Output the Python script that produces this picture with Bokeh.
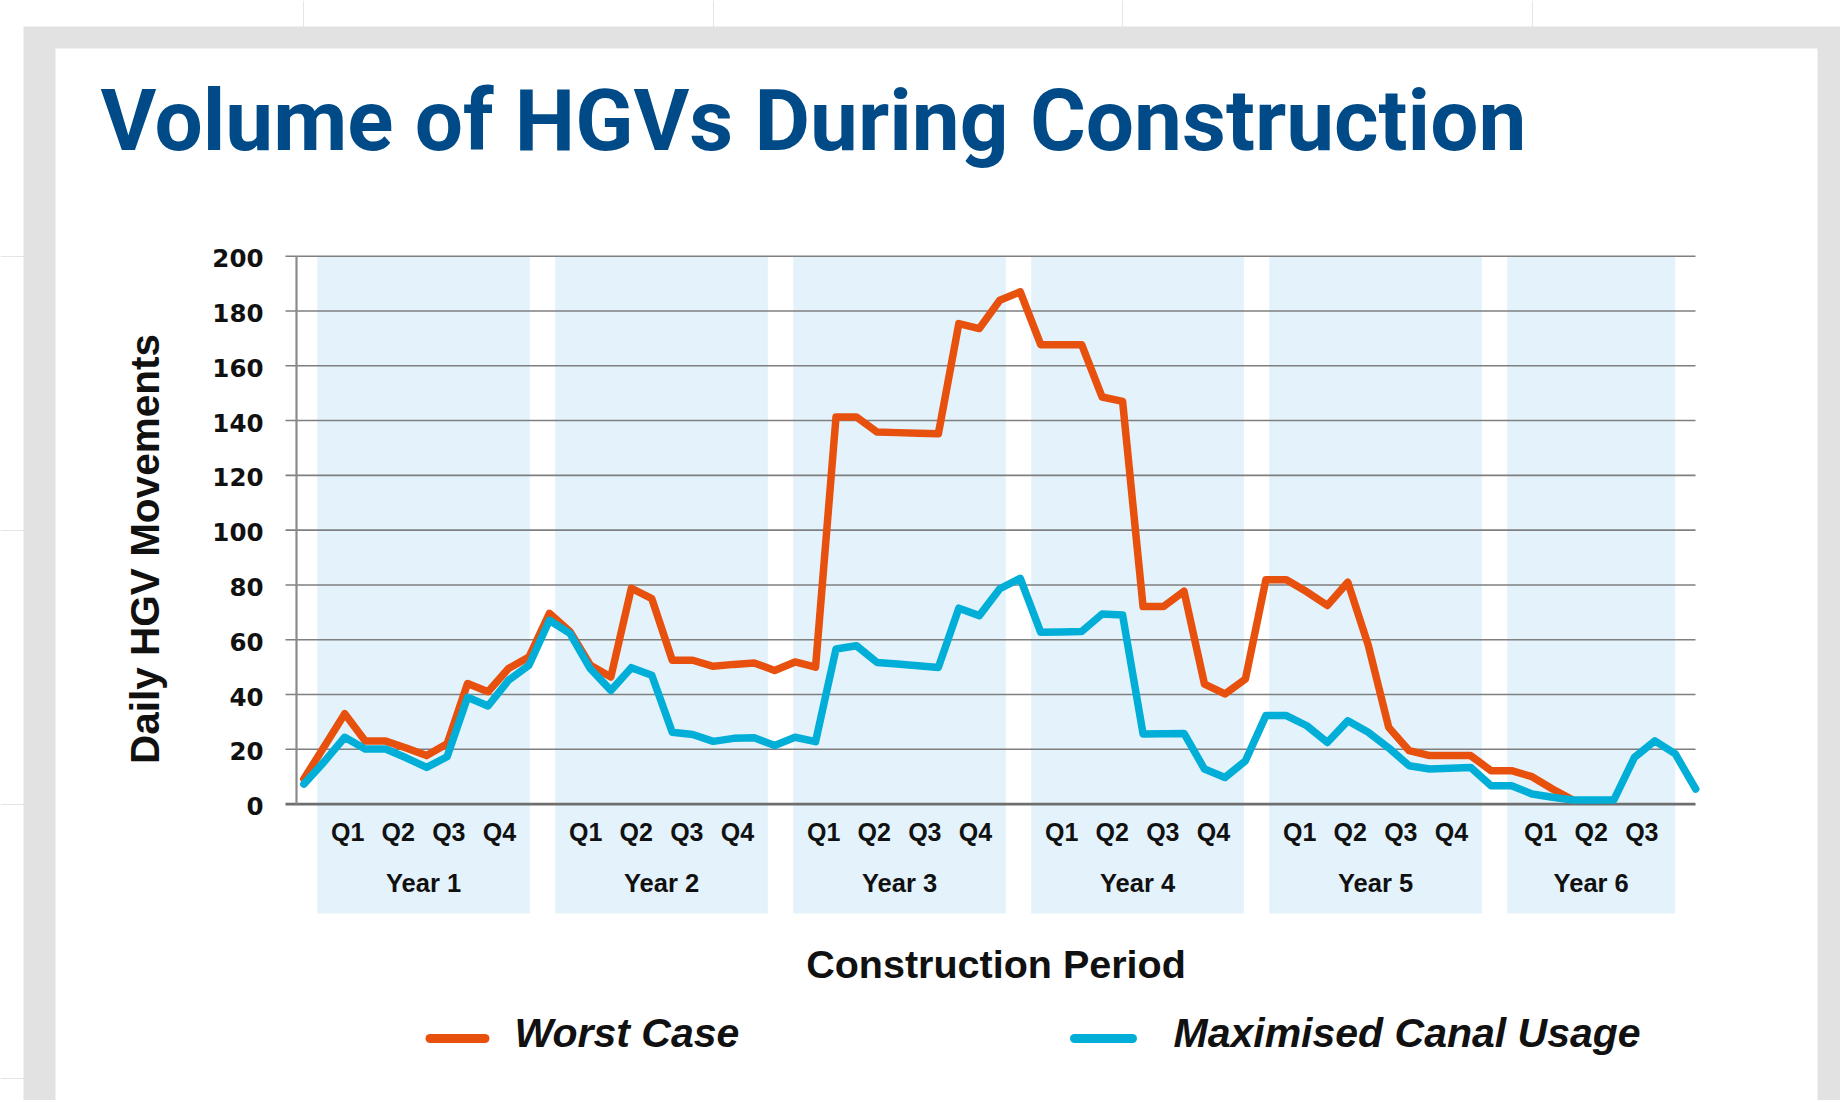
from bokeh.plotting import figure
from bokeh.models import Range1d
from bokeh.core.properties import value
from bokeh.embed import file_html
from bokeh.resources import INLINE

# ---------------- data ----------------
title_text = "Volume of HGVs During Construction"
y_title = "Daily HGV Movements"
x_title = "Construction Period"
series_names = ["Worst Case", "Maximised Canal Usage"]
year_labels = ["Year 1", "Year 2", "Year 3", "Year 4", "Year 5", "Year 6"]
quarter_labels = [["Q1", "Q2", "Q3", "Q4"]] * 5 + [["Q1", "Q2", "Q3"]]
y_ticks = [0, 20, 40, 60, 80, 100, 120, 140, 160, 180, 200]

worst_case = [9.2, 21, 33, 23, 23, 20.5, 17.7, 22, 44, 41,
              49.5, 53.7, 69.6, 63, 50.7, 46.4, 78.8, 75, 52.5, 52.5,
              50.3, 51, 51.5, 48.8, 51.9, 50, 141.3, 141.3, 135.8, 135.6,
              135.4, 135.2, 175.4, 173.6, 183.9, 187, 167.7, 167.7, 167.7, 148.6,
              147, 72.1, 72.1, 77.7, 43.8, 40.2, 45.7, 81.9, 81.9, 77.5,
              72.5, 81, 58, 28, 19.5, 17.7, 17.7, 17.7, 12.2, 12.2,
              10, 5.5, 1.5]
canal_usage = [7.3, 15.5, 24.4, 20.1, 20.1, 16.9, 13.4, 17.3, 39, 35.8,
               45.2, 50.7, 67.1, 62.3, 49.4, 41.5, 49.8, 47, 26.2, 25.4,
               22.9, 24, 24.2, 21.4, 24.4, 22.8, 56.6, 57.8, 51.7, 51.1,
               50.5, 49.9, 71.5, 68.8, 78.6, 82.4, 62.7, 62.8, 63, 69.4,
               69, 25.6, 25.7, 25.8, 12.8, 9.7, 15.8, 32.3, 32.3, 28.6,
               22.5, 30.4, 26.2, 20.5, 14, 12.8, 13.1, 13.4, 6.7, 6.7,
               3.7, 2.5, 1.5, 1.5, 1.5, 17, 23.1, 18.3, 5.5]
worst_x = list(range(len(worst_case)))
canal_x = list(range(len(canal_usage)))

# ---------------- layout (pixel geometry of the page) ----------------
W, H = 1840, 1100
OFF = 0
X0, DX = 303.3, 20.47      # screen px of period 0, px per period
Y0, DY = 803.6, 2.7395     # screen px of value 0, px per unit


def sx(px):
    return (px - X0) / DX


def sy(py):
    return (Y0 - py) / DY


def base(py, fs, k=0.355):
    # text drawn with middle baseline: shift anchor from baseline to cap centre
    return sy(py - k * fs)


ORANGE = "#E8500E"
BLUE = "#00AED7"
NAVY = "#004B87"
BAND = "#E4F3FB"
FRAME = "#E2E2E2"
GRID = "#7F7F7F"
INK = "#111111"
FONT = value("Liberation Sans")

p = figure(width=W, height=H,
           x_range=Range1d(sx(OFF), sx(OFF + W)),
           y_range=Range1d(sy(OFF + H), sy(OFF)),
           output_backend="svg", toolbar_location=None, min_border=0,
           x_axis_location=None, y_axis_location=None, title=None,
           outline_line_color=None, background_fill_color="white",
           border_fill_color="white")

# page frame
p.quad(left=[sx(23)], right=[sx(1860)], top=[sy(26)], bottom=[sy(1120)],
       fill_color=FRAME, line_color=None)
p.quad(left=[sx(55)], right=[sx(1817)], top=[sy(48)], bottom=[sy(1120)],
       fill_color="white", line_color=None)

# year bands
period = 238 / DX
band_w = 212.7 / DX
last_w = 168 / DX
b0 = sx(316.7)
lefts = [b0 + i * period for i in range(len(year_labels))]
rights = [l + (band_w if i < len(year_labels) - 1 else last_w) for i, l in enumerate(lefts)]
p.quad(left=lefts, right=rights, top=[max(y_ticks)] * len(lefts),
       bottom=[sy(913)] * len(lefts), fill_color=BAND, line_color=None)

# grid lines and axis
gx0, gx1 = sx(285), sx(1695)
gt = [t for t in y_ticks if t > 0]
p.segment(x0=[gx0] * len(gt), y0=gt, x1=[gx1] * len(gt), y1=gt,
          line_color=GRID, line_width=1.6)
p.segment(x0=[gx0], y0=[0], x1=[gx1], y1=[0], line_color="#6E6E6E", line_width=2.6)
p.segment(x0=[sx(296)], y0=[0], x1=[sx(296)], y1=[max(y_ticks)],
          line_color="#8A8A8A", line_width=2.2)

# tick labels
p.text(x=[sx(263)] * len(y_ticks), y=y_ticks, text=[str(t) for t in y_ticks],
       text_font=value("DejaVu Sans"), text_font_style="bold",
       text_font_size="24.5px", text_color=INK, text_align="right",
       text_baseline="middle", y_offset=2)

# quarter and year labels
centers = [(l + r) / 2 for l, r in zip(lefts, rights)]
qstep = 50.6 / DX
qx, qt = [], []
for c, qs in zip(centers, quarter_labels):
    n = len(qs)
    for k, q in enumerate(qs):
        qx.append(c + (k - (n - 1) / 2) * qstep)
        qt.append(q)
p.text(x=qx, y=[base(840, 25)] * len(qx), text=qt, text_font=FONT,
       text_font_style="bold", text_font_size="25px", text_color=INK,
       text_align="center", text_baseline="middle")
p.text(x=centers, y=[base(891.7, 25.5)] * len(centers), text=year_labels, text_font=FONT,
       text_font_style="bold", text_font_size="25.5px", text_color=INK,
       text_align="center", text_baseline="middle")

# data lines
p.line(worst_x, worst_case, line_color=ORANGE, line_width=7.5,
       line_join="round", line_cap="round")
p.line(canal_x, canal_usage, line_color=BLUE, line_width=7.5,
       line_join="round", line_cap="round")

# titles
p.text(x=[sx(100)], y=[base(150.7, 85.5)], text=[title_text], text_font=value("Roboto"),
       text_font_style="bold", text_font_size="85.5px", text_color=NAVY,
       text_align="left", text_baseline="middle")
p.text(x=[sx(158.5 - 0.355 * 40.5)], y=[sy(548.5)], text=[y_title], angle=1.5707963,
       text_font=FONT, text_font_style="bold", text_font_size="40.5px",
       text_color=INK, text_align="center", text_baseline="middle")
p.text(x=[(sx(296) + gx1) / 2], y=[base(978, 39.5)], text=[x_title],
       text_font=FONT, text_font_style="bold", text_font_size="39.5px",
       text_color=INK, text_align="center", text_baseline="middle")

# legend
p.segment(x0=[sx(429.5), sx(1074)], y0=[sy(1038)] * 2,
          x1=[sx(484.5), sx(1132)], y1=[sy(1038)] * 2,
          line_color=[ORANGE, BLUE], line_width=9, line_cap="round")
p.text(x=[sx(514), sx(1173)], y=[base(1046.7, 41)] * 2, text=series_names,
       text_font=FONT, text_font_style="bold italic", text_font_size="41px",
       text_color=INK, text_align="left", text_baseline="middle")

open("out.html", "w").write(file_html(p, INLINE))
